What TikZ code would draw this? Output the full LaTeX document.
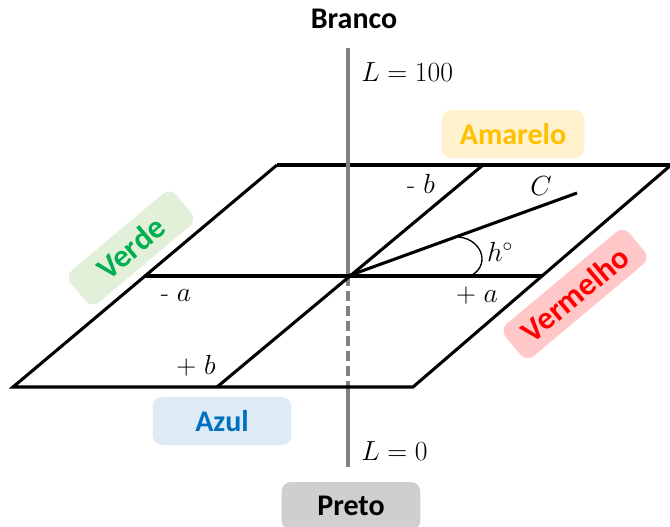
\documentclass[tikz,border=0pt]{standalone}
\usepackage{fontspec}
\setsansfont{Carlito}
\usepackage{tikz}
\usetikzlibrary{positioning}
\definecolor{axisgray}{HTML}{808080}
\definecolor{yellowfill}{HTML}{FFF2CC}
\definecolor{yellowtext}{HTML}{FFC000}
\definecolor{greenfill}{HTML}{E2F0D9}
\definecolor{greentext}{HTML}{00B050}
\definecolor{redfill}{HTML}{FFC7C7}
\definecolor{redtext}{HTML}{FF0000}
\definecolor{bluefill}{HTML}{DEEBF7}
\definecolor{bluetext}{HTML}{0070C0}
\definecolor{grayfill}{HTML}{D0CECE}

\begin{document}
\begin{tikzpicture}[
    x = 0.75pt, y = -0.75pt,
    every node/.style = {inner sep=0pt, font=\fontsize{20}{24}\selectfont},
    tag/.style = {rectangle, rounded corners=7pt, minimum height=36pt,
                  font=\sffamily\bfseries\fontsize{22.5}{26}\selectfont},
    slanttag/.style = {tag, minimum height=31.5pt, rotate=40,
                  font=\sffamily\bfseries\fontsize{24}{28}\selectfont},
    plane/.style = {line width=2.3pt, color=black},
    axis/.style = {line width=3pt, color=axisgray},
    hidden/.style = {axis, dash pattern=on 7.5pt off 3.75pt}
  ]
    \useasboundingbox (0,0) rectangle (670,526);

    % Colour tags
    \node[tag, fill=yellowfill, text=yellowtext, minimum width=107pt] (amarelo) at (513,134) {Amarelo};
    \node[slanttag, fill=greenfill, text=greentext, minimum width=103pt] (verde) at (131,248) {Verde};
    \node[slanttag, fill=redfill, text=redtext, minimum width=121pt] (vermelho) at (575,294) {Vermelho};
    \node[tag, fill=bluefill, text=bluetext, minimum width=104pt] (azul) at (222,421) {Azul};
    \node[tag, fill=grayfill, minimum width=104pt] (preto) at (351,506) {Preto};
    \node[font=\sffamily\bfseries\fontsize{22.5}{26}\selectfont] (branco) at (354,19) {Branco};

    % Plane and axes
    \coordinate (sw) at (13,387);
    \coordinate (se) at (413,387);
    \coordinate (ne) at (671,165);
    \coordinate (nw) at (277,165);
    \coordinate (origin) at (348,276);
    \coordinate (aneg) at (145,276);
    \coordinate (apos) at (542,276);
    \coordinate (bpos) at (217,387);
    \coordinate (bneg) at (483,165);
    \coordinate (chroma) at (577,193);
    \coordinate (ltop) at (348,48);
    \coordinate (lmid) at (348,387);
    \coordinate (lbot) at (348,467);
    \coordinate (hstart) at (459,237);
    \coordinate (hend) at (468,277);

    \draw[plane] (nw) -- (ne);
    \draw[axis] (ltop) -- (origin);
    \draw[hidden] (origin) -- (lmid);
    \draw[axis] (lmid) -- (lbot);
    \draw[plane] (nw) -- (sw) -- (se) -- (ne);
    \draw[plane] (aneg) -- (apos);
    \draw[plane] (bpos) -- (bneg);
    \draw[plane] (origin) -- (chroma);
    \draw[line width=1pt] (hstart) .. controls (484,240) and (491,268) .. (hend);

    % Labels
    \node[anchor=west] (lmax) at (361,72) {$L = 100$};
    \node[anchor=west] (lmin) at (361,451) {$L = 0$};
    \node (bneglabel) at (421,184) {- $b$};
    \node (clabel) at (541,186) {$C$};
    \node (hlabel) at (500,252) {$h^{\circ}$};
    \node (aneglabel) at (176,296) {- $a$};
    \node (aposlabel) at (477,296) {$+\;a$};
    \node (bposlabel) at (196,366) {$+\;b$};

  \end{tikzpicture}
\end{document}
